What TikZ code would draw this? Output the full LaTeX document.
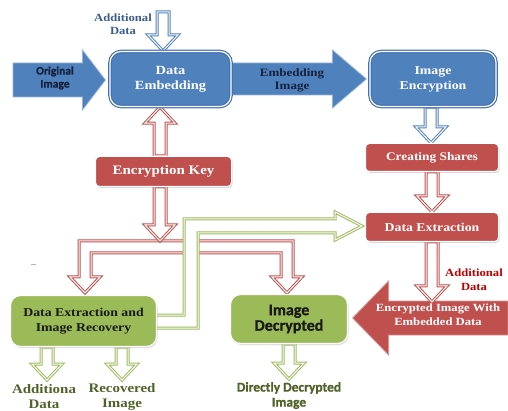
\documentclass[tikz,border=0pt]{standalone}
\usepackage{fontspec}
\newfontfamily\calib[FakeBold=0.9]{Carlito Bold}
\newfontfamily\lmb[FakeStretch=1.15]{Liberation Serif}
\usetikzlibrary{calc,shadows,backgrounds}
\definecolor{bluebox}{RGB}{79,129,189}
\definecolor{blueedge}{RGB}{70,115,175}
\definecolor{redbox}{RGB}{192,80,77}
\definecolor{greenbox}{RGB}{155,187,89}
\definecolor{navytxt}{RGB}{22,34,60}
\definecolor{bluetxt}{RGB}{60,92,145}
\definecolor{redtxt}{RGB}{192,0,0}
\definecolor{olivetxt}{RGB}{79,98,40}
\definecolor{darktxt}{RGB}{25,25,25}

\newcommand\arsw{6pt}
\newcommand\arhw{15pt}
\newcommand\arhl{16pt}
\newcommand\hDown[3]{\draw[#1] let \p1=(#2), \p2=(#3) in
  (\x1-\arsw,\y1) -- (\x1-\arsw,\y2+\arhl) -- (\x1-\arhw,\y2+\arhl) -- (\x1,\y2)
  -- (\x1+\arhw,\y2+\arhl) -- (\x1+\arsw,\y2+\arhl) -- (\x1+\arsw,\y1) -- cycle;}
\newcommand\hUp[3]{\draw[#1] let \p1=(#2), \p2=(#3) in
  (\x1-\arsw,\y1) -- (\x1-\arsw,\y2-\arhl) -- (\x1-\arhw,\y2-\arhl) -- (\x1,\y2)
  -- (\x1+\arhw,\y2-\arhl) -- (\x1+\arsw,\y2-\arhl) -- (\x1+\arsw,\y1) -- cycle;}
\newcommand\bigRight[6]{\draw[#1] let \p1=(#2), \p2=(#3) in
  (\x1,\y1+#4) -- (\x2-#6,\y1+#4) -- (\x2-#6,\y1+#5) -- (\x2,\y1)
  -- (\x2-#6,\y1-#5) -- (\x2-#6,\y1-#4) -- (\x1,\y1-#4) -- cycle;}
\newcommand\bigLeft[6]{\draw[#1] let \p1=(#2), \p2=(#3) in
  (\x1,\y1+#4) -- (\x2+#6,\y1+#4) -- (\x2+#6,\y1+#5) -- (\x2,\y1)
  -- (\x2+#6,\y1-#5) -- (\x2+#6,\y1-#4) -- (\x1,\y1-#4) -- cycle;}

\begin{document}
\begin{tikzpicture}[x=1pt,y=-1pt,
  bluenode/.style={fill=bluebox, draw=blueedge, double=white, double distance=1.2pt,
    line width=1.2pt, rounded corners=11pt, text=white, align=center, inner sep=0pt},
  rednode/.style={fill=redbox, draw=white, line width=1pt, rounded corners=4pt,
    drop shadow={shadow xshift=1pt, shadow yshift=-1.5pt, opacity=0.3},
    text=white, align=center, inner sep=0pt},
  greennode/.style={fill=greenbox, draw=white, line width=1.2pt, rounded corners=10pt,
    drop shadow={shadow xshift=1pt, shadow yshift=-1.5pt, opacity=0.3},
    align=center, inner sep=0pt},
  hollowR/.style={fill=white, draw=redbox, double=white, double distance=1pt,
    line width=1pt, line join=miter},
  hollowB/.style={fill=white, draw=bluebox, double=white, double distance=1pt,
    line width=1pt, line join=miter},
  hollowG/.style={fill=white, draw=greenbox, double=white, double distance=1pt,
    line width=1pt, line join=miter},
  bigblue/.style={fill=bluebox, draw=bluebox!60!white, line width=0.8pt},
  bigred/.style={fill=redbox, draw=redbox!60!white, line width=0.8pt},
  lbl/.style={align=center, inner sep=0pt}]
\useasboundingbox (0,0) rectangle (508,411);

% boxes
\node[bluenode, minimum width=121pt, minimum height=55pt,
  font=\lmb\bfseries\fontsize{12.5}{15}\selectfont] (emb) at (170.5,79) {Data\\Embedding};
\node[bluenode, minimum width=126pt, minimum height=55pt,
  font=\lmb\bfseries\fontsize{12}{15}\selectfont] (enc) at (433,79) {Image\\Encryption};
\node[rednode, minimum width=133pt, minimum height=28pt,
  font=\lmb\bfseries\fontsize{11.6}{13}\selectfont] (shares) at (432,157.5) {Creating Shares};
\node[rednode, minimum width=133pt, minimum height=29pt,
  font=\lmb\bfseries\fontsize{12}{13}\selectfont] (dext) at (432,227) {Data Extraction};
\node[rednode, minimum width=136pt, minimum height=30pt,
  font=\lmb\bfseries\fontsize{13}{14}\selectfont] (ekey) at (163.5,171.5) {Encryption Key};
\node[greennode, minimum width=146pt, minimum height=51pt, text=darktxt,
  font=\lmb\bfseries\fontsize{12}{15}\selectfont] (deir) at (83.5,321) {Data Extraction and\\Image Recovery};
\node[greennode, minimum width=117pt, minimum height=49pt, text=darktxt,
  font=\calib\fontsize{16}{15.5}\selectfont] (idec) at (289,319) {Image\\Decrypted};

\coordinate (adin) at (163,12);
\coordinate (oiS) at (13,80);
\coordinate (eiR) at (508,318);

\begin{pgfonlayer}{background}
  % blue arrows
  \hDown{hollowB}{adin}{emb.north}
  \bigRight{bigblue}{oiS}{$(emb.west)+(-4,0)$}{17pt}{30pt}{23pt}
  \bigRight{bigblue}{emb.east}{$(enc.west)+(-3,0)$}{16pt}{29pt}{34pt}
  \hDown{hollowB}{$(enc.south)+(-2,0)$}{shares.north}
  % red arrows
  \hDown{hollowR}{shares.south}{dext.north}
  \bigLeft{bigred}{eiR}{$(idec.east)+(4.5,0)$}{17pt}{37pt}{36pt}
  \hDown{hollowR}{dext.south}{$(dext.south)+(0,60)$}
  \hUp{hollowR}{$(ekey.north)+(-3.5,0)$}{emb.south}
  % red bus
  \draw[hollowR] (79,241) -- (293,241) -- (293,277) -- (302,277) -- (287,293)
    -- (272,277) -- (281,277) -- (281,253) -- (91,253) -- (91,277) -- (100,277)
    -- (85,293) -- (70,277) -- (79,277) -- cycle;
  \hDown{hollowR}{$(ekey.south)+(-3.5,0)$}{$(ekey.south)+(-3.5,54)$}
  % green path
  \draw[hollowG] (150,315) -- (184,315) -- (184,219) -- (335,219) -- (335,212)
    -- (362,226) -- (335,240) -- (335,233) -- (198,233) -- (198,328) -- (150,328) -- cycle;
  % green arrows
  \hDown{hollowG}{$(deir.south)+(-36.5,0)$}{$(deir.south)+(-36.5,33)$}
  \hDown{hollowG}{$(deir.south)+(38.5,0)$}{$(deir.south)+(38.5,33)$}
  \hDown{hollowG}{idec.south}{$(idec.south)+(0,35)$}
\end{pgfonlayer}

% texts
\node[lbl, text=bluetxt, font=\lmb\bfseries\fontsize{11}{13}\selectfont] (adtxt) at (123,24) {Additional\\Data};
\node[lbl, text=navytxt, font=\calib\fontsize{11.5}{13}\selectfont] (oitxt) at (55,78) {Original\\Image};
\node[lbl, text=navytxt, font=\lmb\bfseries\fontsize{11.3}{13}\selectfont] (eitxt) at (292,80) {Embedding\\Image};
\node[lbl, text=white, font=\lmb\bfseries\fontsize{11}{14}\selectfont] (eetxt) at (438,315) {Encrypted Image With\\Embedded Data};
\node[lbl, text=redtxt, font=\lmb\bfseries\fontsize{11}{14}\selectfont] (ad2) at (474,280) {Additional\\Data};
\node[lbl, text=olivetxt, font=\lmb\bfseries\fontsize{13}{15}\selectfont] (b1) at (44,396.5) {Additiona\\Data};
\node[lbl, text=olivetxt, font=\lmb\bfseries\fontsize{13}{15}\selectfont] (b2) at (122,396.5) {Recovered\\Image};
\node[lbl, text=olivetxt, font=\calib\fontsize{13.5}{15}\selectfont] (b3) at (289,395.5) {Directly Decrypted\\Image};

\draw[gray!60, line width=0.8pt] (31,264) -- (36,264);
\end{tikzpicture}
\end{document}
